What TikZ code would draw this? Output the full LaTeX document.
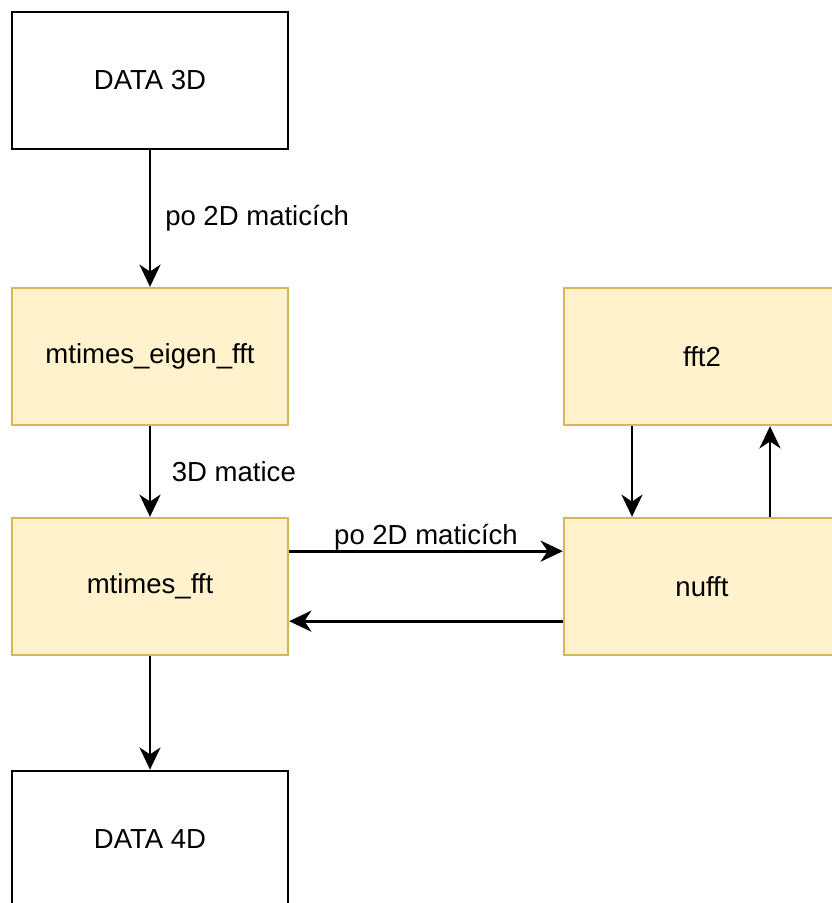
\documentclass[tikz,border=0pt]{standalone}
\usepackage{fontspec}
\setmainfont{Liberation Sans}
\usetikzlibrary{arrows.meta,positioning}
\begin{document}
\begin{tikzpicture}[x=0.03cm, y=-0.03cm,
  font=\fontsize{23.5}{28}\selectfont,
  box/.style={rectangle, draw=black, line width=2.3pt, minimum width=8.28cm, minimum height=4.11cm},
  fbox/.style={box, draw={rgb,255:red,214;green,182;blue,86}, fill={rgb,255:red,255;green,242;blue,204}, line width=2pt},
  conn/.style={line width=2.3pt, -{Stealth[length=19pt, width=18pt, inset=6pt]}}]
\useasboundingbox (0,0) rectangle (831,903);
\node [box] (data3) at (150,80.5) {DATA 3D};
\node [fbox] (eigen) at (150,356.5) {mtimes\_eigen\_fft};
\node [fbox] (fft2) at (702,356.5) {fft2};
\node [fbox] (mfft) at (150,586.5) {mtimes\_fft};
\node [fbox] (nufft) at (702,586.5) {nufft};
\node [box] (data4) at (150,839.5) {DATA 4D};
\draw [conn] (data3) -- (eigen) node[midway, right=0.3cm] {po 2D maticích};
\draw [conn] (eigen) -- (mfft) node[midway, right=0.5cm] {3D matice};
\draw [conn] ([yshift=1.06cm]mfft.east) -- ([yshift=1.06cm]nufft.west)
  node[midway, yshift=0.42cm] {po 2D maticích};
\draw [conn] ([yshift=-1.04cm]nufft.west) -- ([yshift=-1.04cm]mfft.east);
\draw [conn] ([xshift=-2.1cm]fft2.south) -- ([xshift=-2.1cm]nufft.north);
\draw [conn] ([xshift=2.04cm]nufft.north) -- ([xshift=2.04cm]fft2.south);
\draw [conn] (mfft) -- (data4);
\end{tikzpicture}
\end{document}
